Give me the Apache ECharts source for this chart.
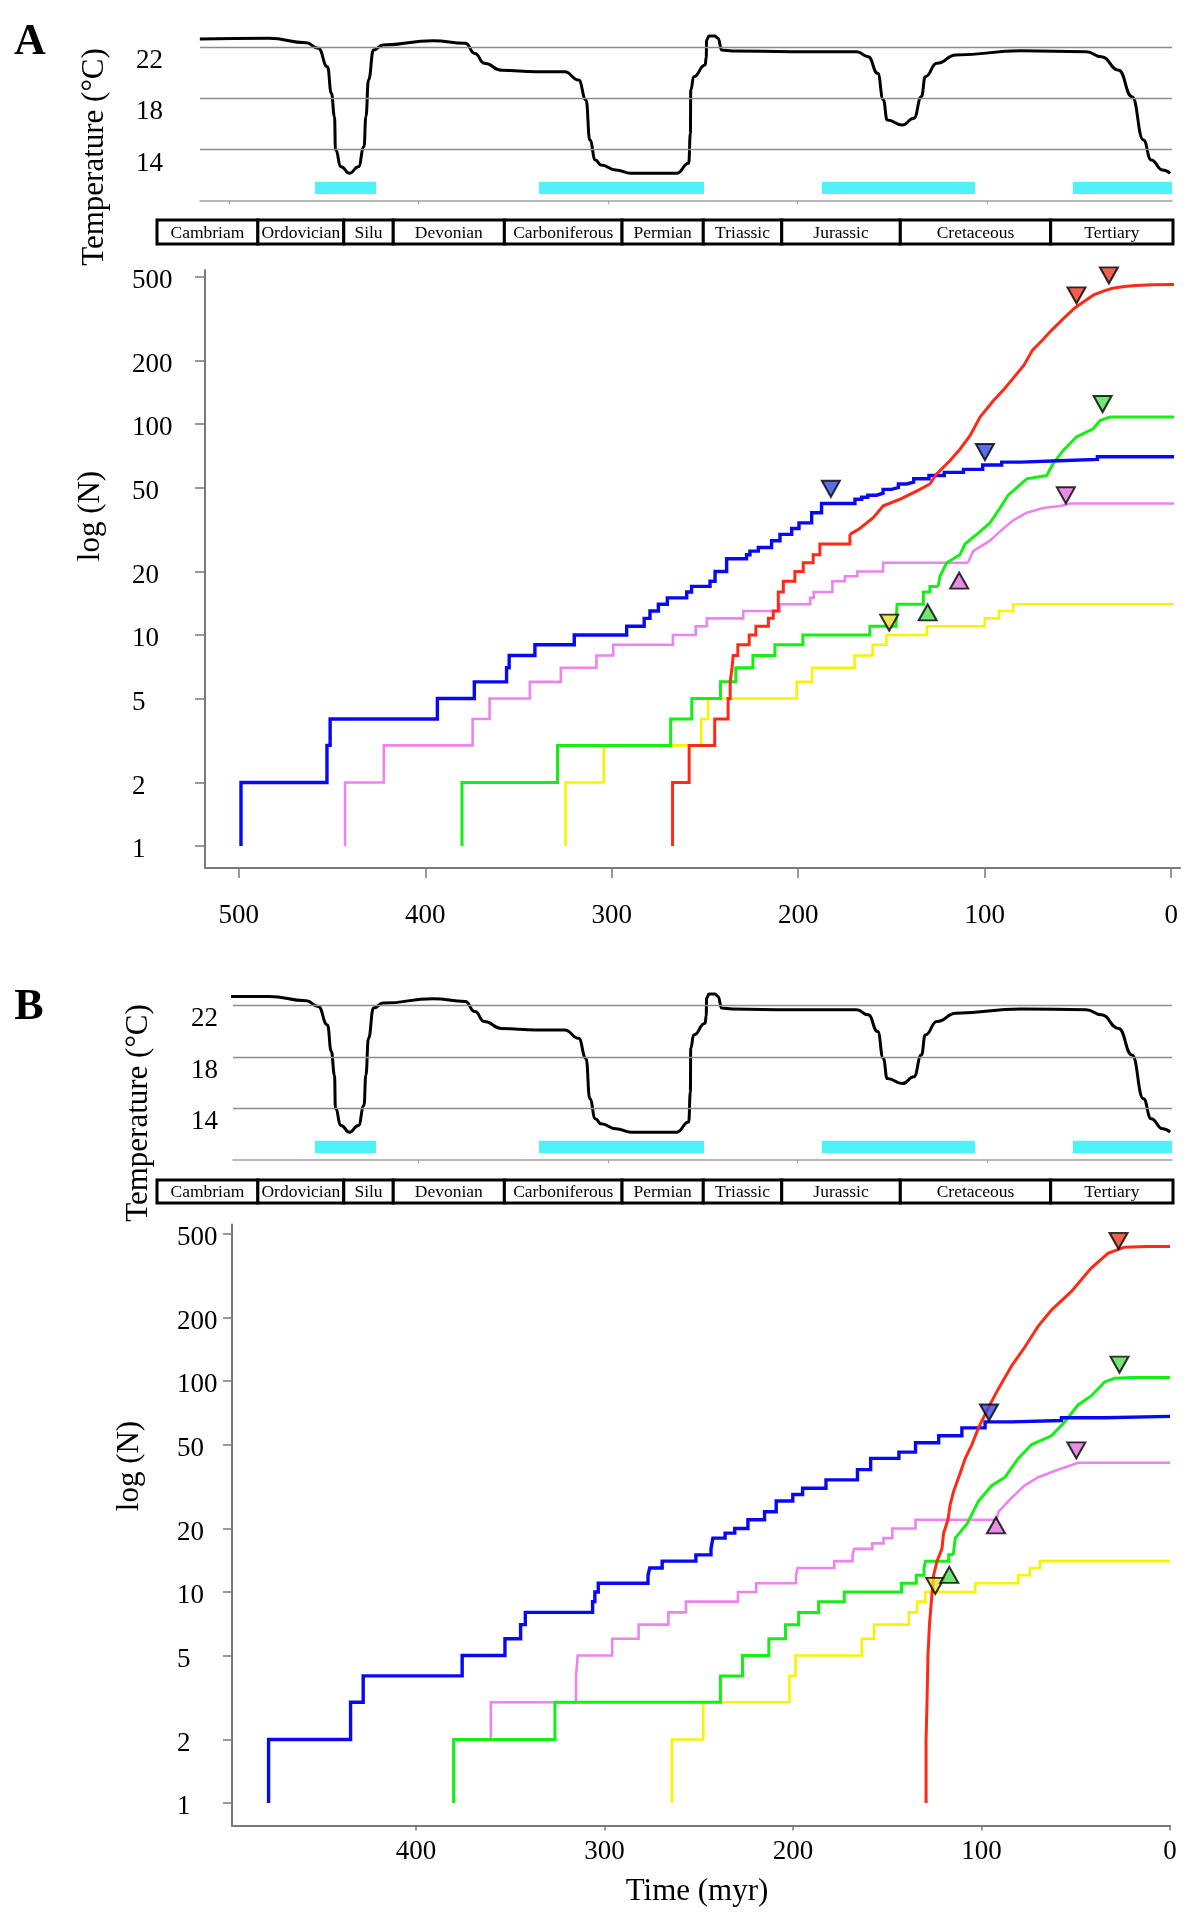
<!DOCTYPE html>
<html><head><meta charset="utf-8">
<script src="https://cdn.jsdelivr.net/npm/echarts@6/dist/echarts.min.js"></script>
<style>html,body{margin:0;padding:0;background:#fff}#c{width:1200px;height:1920px}</style>
</head><body><div id="c"></div>
<script>
// ---------- data ----------
const periodNames = ['Cambriam','Ordovician','Silu','Devonian','Carboniferous','Permian','Triassic','Jurassic','Cretaceous','Tertiary'];
const periodBounds = [544, 490, 444, 417.5, 358, 295, 251.5, 209.5, 146, 65.5, 0];
const glacialIntervals = [[459.3,426.6],[339.2,250.8],[187.6,105.6],[53.1,0]];
const temperature = [[521,22.63],[484,22.68],[464,22.34],[457.5,21.9],[452.6,20.47],[450.5,18.4],[448.8,16.57],[448.3,13.97],[445.3,12.67],[440.8,12.16],[436,12.67],[433,14.23],[432,16.57],[430.6,19.43],[427.9,21.77],[422.8,22.16],[396,22.5],[378.7,22.29],[373.6,21.5],[368.5,20.73],[359.3,20.2],[340.7,20.08],[325.4,20.08],[318,19.43],[314,17.87],[312,14.75],[309,13.2],[306,12.8],[298,12.42],[290,12.16],[265.4,12.16],[259,12.94],[258.1,15.28],[257.9,18.65],[256.3,19.69],[250.2,20.6],[249.6,21.2],[249.4,22.55],[248.1,22.86],[245,22.86],[243.3,22.68],[241.3,21.77],[235.7,21.7],[204,21.64],[169,21.64],[162.8,21.25],[157.7,19.95],[154.7,17.87],[152.6,16.31],[144.5,15.92],[138.3,16.45],[134.3,18.13],[132.2,19.69],[126,20.73],[115.8,21.38],[80.9,21.71],[46,21.64],[37.8,21.25],[28.6,20.2],[21.4,18.13],[15.3,14.75],[11.2,13.2],[5,12.42],[1,12.16]];
const tempGridValues = [14,18,22];
const tempBaseTicks = [505,404,302,201,99];
const logTickValues = [1,2,5,10,20,50,100,200,500];
const timeTicksA = [0,100,200,300,400,500];
const timeTicksB = [0,100,200,300,400];

// Panel A lineages: [time (myr), N]
const aBlueStep = [[498.8,1],[498.8,2],[452.7,3],[451,4],[393.5,5],[373.7,6],[356.4,7],[355,8],[341.2,9],[320.1,10],[292,11],[282.6,12],[279.5,13],[275,14],[270.2,15],[259.8,16],[257.2,17],[247.3,18],[244.6,20],[238.4,23],[227.7,24],[225.9,25],[221.4,26],[214.3,28],[209.8,30],[203.5,32],[199.6,34],[192.8,38],[187.5,42],[169.6,44],[166,45],[162.7,46],[158,47],[154.5,49],[150,50],[146.3,52],[142,53],[138.1,55],[129.9,57],[121.7,59],[111.4,61],[101.1,64],[90.9,66],[80.6,67],[60.1,68],[39.6,70],[-1.5,70]];
const aRedStep = [[267.4,1],[267.4,2],[258.5,3],[244.8,4],[237.6,5],[236.5,6],[235.5,7],[234.9,8],[232.4,9],[226.3,10],[222.7,11],[216,12],[213.4,13],[210.7,16],[208,18],[201.8,20],[197.3,22],[192,24],[188.4,27],[172.3,30]];
const aRedCurve = [[172.3,30],[167,32],[159.8,36],[154.4,41],[145.5,44],[134.7,49],[129.4,52],[125.8,58],[118.7,67],[113.3,76],[107.9,88],[102.5,108],[95.4,129],[90,145],[84.7,165],[79,190],[74.4,224],[69,250],[64.2,278],[58,315],[51.9,354],[46,385],[41.6,409],[36,428],[31.4,440],[25,448],[19,453],[10,457],[-1.5,458]];
const aGreenStep = [[380.3,1],[380.3,2],[329.1,3],[268.4,4],[257.1,5],[241.7,6],[233.5,7],[224.3,8],[212.5,9],[197.5,10],[161.6,11],[147.5,12],[147.2,13],[147,14],[132.9,16],[129.4,17],[125,17]];
const aGreenCurve = [[125,17],[124,19],[120.4,22],[113.3,24],[110.6,27],[104.3,30],[97.2,34],[91.8,40],[87.4,46],[77.5,55],[66.8,57],[63.3,65],[57.9,75],[50.7,87],[41.8,95],[38.2,104],[32.9,108],[-1.5,108]];
const aPinkStep = [[443,1],[443,2],[422.2,3],[374.6,4],[365.5,5],[343.9,6],[327.3,7],[308.2,8],[299.2,9],[267.2,10],[255,11],[249,12],[229.5,13],[209.8,14],[193.6,15],[191.7,16],[181.7,18],[175,19],[168.3,20],[154.5,22],[109,22]];
const aPinkCurve = [[109,22],[106.2,25],[97.2,28],[91.8,31],[84.7,35],[77.5,38],[68.6,40],[58.8,41],[54.3,42],[-1.5,42]];
const aYellowStep = [[324.8,1],[324.8,2],[304.3,3],[252,4],[248.3,5],[200.8,6],[192.6,7],[169.8,8],[160.1,9],[152.7,10],[131,11],[100,12],[92.4,13],[84.7,14],[-1.5,14]];

// Panel B lineages
const bBlueStep = [[478.2,1],[478.2,2],[434.7,3],[428,4],[375.5,5],[352.8,6],[344.5,7],[342,8],[306.3,9],[305.1,10],[303.3,11],[276.9,12],[276,13],[269.4,14],[251.5,15],[243.5,16],[243,17],[242.5,18],[236,19],[230.9,20],[223.9,22],[215.1,24],[208.9,27],[200.1,29],[194.9,31],[182.5,34],[165.8,38],[158.8,43],[143.8,46],[135,51],[122.7,55],[110.4,60],[98.1,64],[84,65],[57.6,67],[34.7,68],[0,68]];
const bRedCurve = [[129.4,1],[129.4,2],[128.9,3],[128.4,5],[127.6,7],[126.6,9],[125.4,12],[123.6,14],[121,16],[120.1,19],[117.8,22],[116.6,26],[114.8,30],[112.1,35],[108.6,43],[105.1,50],[101.6,60],[96.3,75],[91,92],[84,118],[77,145],[69.9,182],[62.9,217],[52.3,266],[41.8,343],[32.9,403],[24.2,431],[12,434],[0,434]];
const bGreenStep = [[380,1],[380,2],[326.3,3],[238.5,4],[226.8,5],[212.8,6],[204,7],[197,8],[186.4,9],[172.8,10],[142.4,11],[134.6,12],[130.5,13],[129.8,14],[117.4,15],[115,15]];
const bGreenCurve = [[115,15],[113.9,18],[107.7,21],[101.6,27],[94.5,32],[87.5,35],[80.5,43],[73.4,50],[62.9,55],[55.9,64],[48.8,77],[41.8,85],[34.7,99],[29.4,103],[20,104],[0,104]];
const bPinkStep = [[380,1],[380,2],[360.3,3],[315.1,4],[314.2,5],[295.9,6],[281.9,7],[266.1,8],[256.8,9],[229.2,10],[219.5,11],[198.4,12],[197.5,13],[178.1,14],[168.4,15],[167.5,16],[157.9,17],[152,18],[147.3,20],[135,22],[92,22]];
const bPinkCurve = [[92,22],[91,24],[84,28],[77,32],[69.9,35],[59.4,38],[48.8,41],[0,41]];
const bYellowStep = [[264.2,1],[264.2,2],[247.6,3],[201.9,4],[198.7,5],[163.5,6],[157,7],[138.5,8],[134.2,9],[129.8,10],[103.3,11],[80.5,12],[74.3,13],[69,14],[0,14]];

// markers: [time, N, colorKey]
const aDownMarkers = [[50.8,373,'red'],[33.4,464,'red'],[182.5,45.2,'blue'],[99.9,67.5,'blue'],[36.8,114,'green'],[56.5,42.1,'pink'],[151.2,10.5,'yellow']];
const aUpMarkers = [[130.6,12.8,'green'],[113.7,18.1,'pink']];
const bDownMarkers = [[27.3,423,'red'],[26.8,109.6,'green'],[96,65,'blue'],[49.7,43,'pink'],[124.5,9.8,'yellow']];
const bUpMarkers = [[117.1,12.05,'green'],[92.3,20.7,'pink']];

// ---------- styles ----------
const FONT = 'Liberation Serif';
const LINE = {blue:'#0808f5', red:'#ff2a16', green:'#14f014', pink:'#ee82ee', yellow:'#f8f400'};
const FILL = {blue:'#3548e0', red:'#ea3a22', green:'#4ee04e', pink:'#e070e0', yellow:'#e8de30'};
const WIDTH = {blue:3.4, red:3, green:3, pink:2.6, yellow:2.6};
const AXIS_GRAY = '#7a7a7a';
const GRID_GRAY = '#8c8c8c';
const CYAN = '#4ef2f8';
const GLACIAL_BAND = [10.55, 11.5];
const DOWN_TRI = 'path://M0,0L20,0L10,18Z';

const ec = echarts.init(document.getElementById('c'), null, {renderer:'canvas'});
const lg = v => Math.log10(v);

function lineSeries(pts, key, xi, step, z) {
  return {type:'line', xAxisIndex:xi, yAxisIndex:xi, data: pts.map(p => [p[0], lg(p[1])]),
    step: step ? 'end' : false, symbol:'none', showSymbol:false, clip:true, z: z || 3,
    lineStyle:{color:LINE[key], width:WIDTH[key], join:'miter'}, silent:true};
}
function markerSeries(list, xi, down) {
  return {type:'scatter', xAxisIndex:xi, yAxisIndex:xi, z:10, silent:true,
    symbol: down ? DOWN_TRI : 'triangle', symbolSize:[18,16], symbolOffset: down ? [0,-8] : [0,0],
    data: list.map(m => ({value:[m[0], lg(m[1])], itemStyle:{color:FILL[m[2]], borderColor:'#000', borderWidth:2}}))};
}
function tempSeries(xi) {
  return {type:'line', xAxisIndex:xi, yAxisIndex:xi, data: temperature, smooth:0.5, smoothMonotone:'x',
    symbol:'none', showSymbol:false, clip:true, z:4, silent:true, lineStyle:{color:'#000', width:3},
    markLine:{silent:true, symbol:['none','none'], label:{show:false}, animation:false,
      lineStyle:{color:GRID_GRAY, width:1.3, type:'solid'}, data: tempGridValues.map(v => ({yAxis:v}))}};
}
function glacialSeries(xi) {
  return {type:'custom', xAxisIndex:xi, yAxisIndex:xi, silent:true, z:2, data: glacialIntervals,
    renderItem(params, api) {
      const p1 = api.coord([api.value(0), GLACIAL_BAND[1]]);
      const p2 = api.coord([api.value(1), GLACIAL_BAND[0]]);
      return {type:'rect', shape:{x:Math.min(p1[0],p2[0]), y:Math.min(p1[1],p2[1]), width:Math.abs(p2[0]-p1[0]), height:Math.abs(p2[1]-p1[1])}, style:{fill:CYAN}};
    }};
}
const periodData = periodNames.map((n,i) => [periodBounds[i], periodBounds[i+1], n]);
function periodSeries(xi) {
  return {type:'custom', xAxisIndex:xi, yAxisIndex:xi, silent:true, z:5, data: periodData,
    renderItem(params, api) {
      const p1 = api.coord([api.value(0), 1]);
      const p2 = api.coord([api.value(1), 0]);
      const x = Math.min(p1[0],p2[0]), w = Math.abs(p2[0]-p1[0]);
      const y = Math.min(p1[1],p2[1]), h = Math.abs(p2[1]-p1[1]);
      return {type:'group', children:[
        {type:'rect', shape:{x, y, width:w, height:h}, style:{fill:'#fff', stroke:'#000', lineWidth:3}},
        {type:'text', style:{text: periodNames[params.dataIndex], x:x+w/2, y:y+h/2+1, align:'center', verticalAlign:'middle', fontSize:17.5, fontFamily:FONT, fill:'#000'}}
      ]};
    }};
}

const grids = [
  {left:200, top:27.8, width:972, height:173.2},    // A temp
  {left:157, top:220, width:1016, height:24},        // A periods
  {left:205, top:270, width:975, height:598},        // A main
  {left:233, top:985.8, width:939, height:174.2},    // B temp
  {left:157, top:1180, width:1016, height:23},       // B periods
  {left:232, top:1224.5, width:938, height:601}      // B main
];

const labelStyle = {color:'#000', fontFamily:FONT, fontSize:27};
function tempX(max) {
  return {type:'value', inverse:true, min:0, max:max, axisLine:{onZero:false, lineStyle:{color:'#a0a0a0', width:1.5}},
    axisTick:{show:true, customValues:tempBaseTicks, length:3, lineStyle:{color:'#a0a0a0'}}, axisLabel:{show:false}, splitLine:{show:false}};
}
function tempY(margin) {
  return {type:'value', min:10, max:23.5, axisLine:{show:false, onZero:false}, axisTick:{show:false}, splitLine:{show:false},
    axisLabel:Object.assign({customValues:tempGridValues, margin:margin, verticalAlign:'top', lineHeight:28}, labelStyle)};
}
const hiddenX = max => ({type:'value', inverse:true, min:0, max:max, show:false});
const hiddenY = {type:'value', min:0, max:1, show:false};
function mainX(min, max, ticks, margin, tickLen) {
  return {type:'value', inverse:true, min:min, max:max, splitLine:{show:false},
    axisLine:{onZero:false, lineStyle:{color:AXIS_GRAY, width:2}},
    axisTick:{customValues:ticks, length:tickLen, lineStyle:{color:AXIS_GRAY, width:1.5}},
    axisLabel:Object.assign({customValues:ticks, margin:margin}, labelStyle)};
}
function mainY(min, max, margin, tickLen) {
  const lv = logTickValues.map(lg);
  return {type:'value', min:min, max:max, splitLine:{show:false},
    axisLine:{onZero:false, lineStyle:{color:AXIS_GRAY, width:2}},
    axisTick:{customValues:lv, length:tickLen, lineStyle:{color:AXIS_GRAY, width:1.5}},
    axisLabel:Object.assign({customValues:lv, margin:margin, align:'left', verticalAlign:'top', lineHeight:8,
      formatter: v => String(Math.round(Math.pow(10, v)))}, labelStyle)};
}

const xAxes = [tempX(520.9), hiddenX(544), mainX(-4.7, 518.1, timeTicksA, 34, 10), tempX(503.2), hiddenX(544), mainX(0, 497.6, timeTicksB, 13, 5)];
const yAxes = [tempY(37), hiddenY, mainY(-0.104, 2.73, 73, 10), tempY(15), hiddenY, mainY(-0.107, 2.742, 55, 9)];
xAxes.forEach((a,i) => a.gridIndex = i);
yAxes.forEach((a,i) => Object.assign(a, {gridIndex:i}));
yAxes[1] = Object.assign({}, hiddenY, {gridIndex:1});
yAxes[4] = Object.assign({}, hiddenY, {gridIndex:4});

const series = [
  glacialSeries(0), tempSeries(0), periodSeries(1),
  lineSeries(aYellowStep,'yellow',2,true), lineSeries(aPinkStep,'pink',2,true), lineSeries(aPinkCurve,'pink',2,false),
  lineSeries(aGreenStep,'green',2,true), lineSeries(aGreenCurve,'green',2,false),
  lineSeries(aBlueStep,'blue',2,true), lineSeries(aRedStep,'red',2,true), lineSeries(aRedCurve,'red',2,false),
  markerSeries(aDownMarkers,2,true), markerSeries(aUpMarkers,2,false),
  glacialSeries(3), tempSeries(3), periodSeries(4),
  lineSeries(bYellowStep,'yellow',5,true), lineSeries(bPinkStep,'pink',5,true), lineSeries(bPinkCurve,'pink',5,false),
  lineSeries(bGreenStep,'green',5,true), lineSeries(bGreenCurve,'green',5,false),
  lineSeries(bBlueStep,'blue',5,true), lineSeries(bRedCurve,'red',5,false),
  markerSeries(bDownMarkers,5,true), markerSeries(bUpMarkers,5,false)
];

function vText(text, x, y, size) {
  return {type:'text', x:x, y:y, rotation:Math.PI/2, silent:true,
    style:{text:text, fontSize:size, fontFamily:FONT, fill:'#000', align:'center', verticalAlign:'middle'}};
}
function hText(text, x, y, size, weight) {
  return {type:'text', x:x, y:y, silent:true,
    style:{text:text, fontSize:size, fontWeight:weight || 'normal', fontFamily:FONT, fill:'#000', align:'center', verticalAlign:'middle'}};
}
const graphic = [
  hText('A', 30, 43, 44, 'bold'), hText('B', 29, 1008, 44, 'bold'),
  vText('Temperature (\u00b0C)', 95, 157, 31), vText('Temperature (\u00b0C)', 139, 1113, 31),
  vText('log (N)', 91, 516, 31), vText('log (N)', 130, 1466, 31),
  hText('Time (myr)', 697, 1892, 31)
];

ec.setOption({animation:false, backgroundColor:'#fff', textStyle:{fontFamily:FONT},
  grid:grids, xAxis:xAxes, yAxis:yAxes, series:series, graphic:graphic});
</script></body></html>
